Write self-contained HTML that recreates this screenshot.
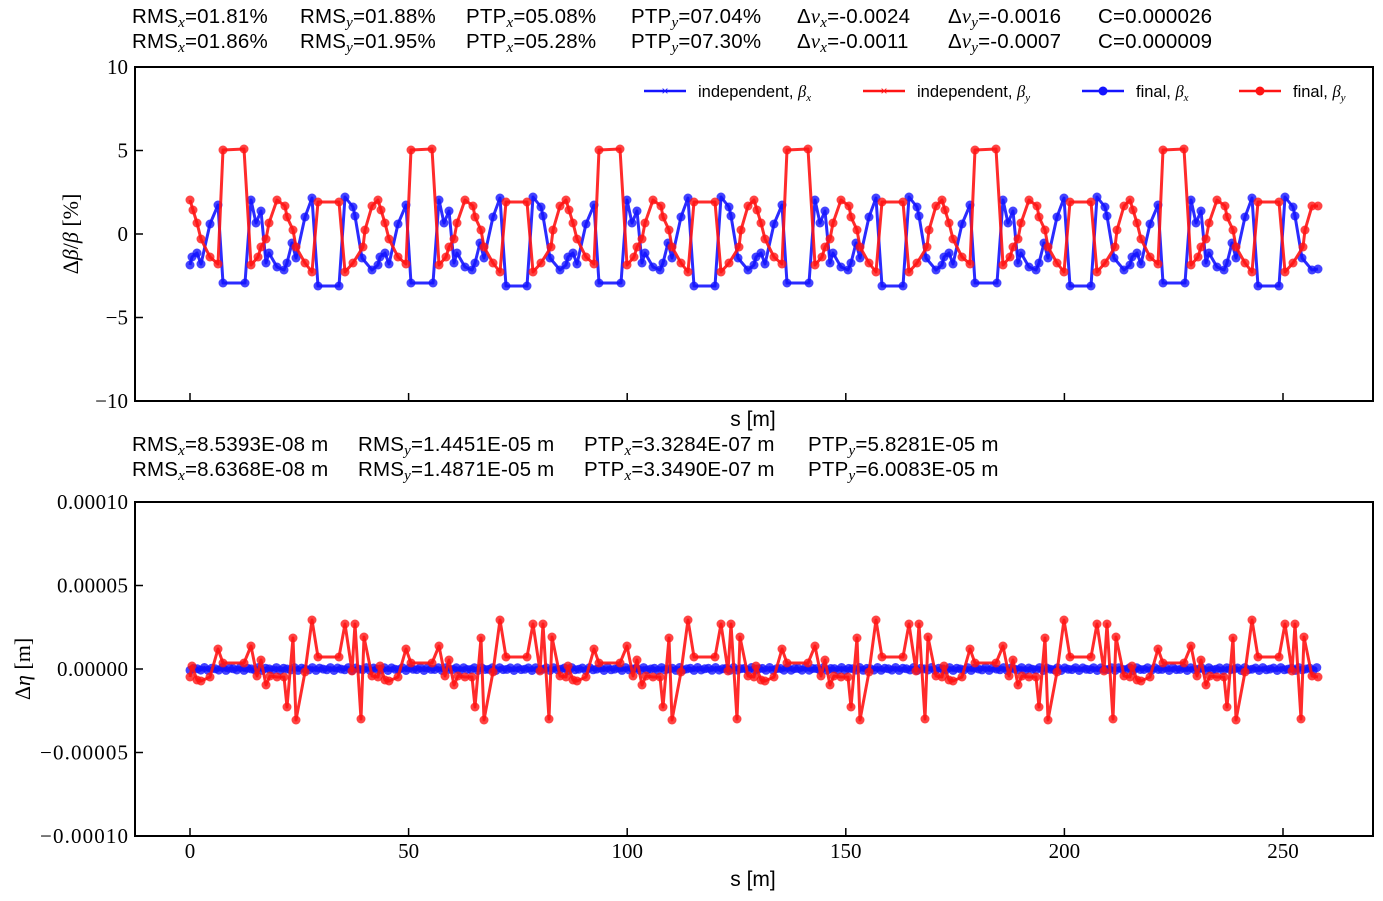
<!DOCTYPE html>
<html><head><meta charset="utf-8"><style>
body{margin:0;background:#fff;width:1383px;height:901px;overflow:hidden;position:relative;font-family:"Liberation Sans",sans-serif}
.t{position:absolute;font-size:20.5px;white-space:nowrap;color:#000;letter-spacing:0.2px}
.t i{font-family:"Liberation Serif",serif;font-size:15px;position:relative;top:4px}
</style></head><body>
<div class="t" style="left:132px;top:5px">RMS<i>x</i>=01.81%</div>
<div class="t" style="left:300px;top:5px">RMS<i>y</i>=01.88%</div>
<div class="t" style="left:466px;top:5px">PTP<i>x</i>=05.08%</div>
<div class="t" style="left:631px;top:5px">PTP<i>y</i>=07.04%</div>
<div class="t" style="left:797px;top:5px">Δ<span style="font-family:'Liberation Serif';font-style:italic">ν</span><i>x</i>=-0.0024</div>
<div class="t" style="left:948px;top:5px">Δ<span style="font-family:'Liberation Serif';font-style:italic">ν</span><i>y</i>=-0.0016</div>
<div class="t" style="left:1098px;top:5px">C=0.000026</div>
<div class="t" style="left:132px;top:30px">RMS<i>x</i>=01.86%</div>
<div class="t" style="left:300px;top:30px">RMS<i>y</i>=01.95%</div>
<div class="t" style="left:466px;top:30px">PTP<i>x</i>=05.28%</div>
<div class="t" style="left:631px;top:30px">PTP<i>y</i>=07.30%</div>
<div class="t" style="left:797px;top:30px">Δ<span style="font-family:'Liberation Serif';font-style:italic">ν</span><i>x</i>=-0.0011</div>
<div class="t" style="left:948px;top:30px">Δ<span style="font-family:'Liberation Serif';font-style:italic">ν</span><i>y</i>=-0.0007</div>
<div class="t" style="left:1098px;top:30px">C=0.000009</div>
<div class="t" style="left:132px;top:433px">RMS<i>x</i>=8.5393E-08 m</div>
<div class="t" style="left:358px;top:433px">RMS<i>y</i>=1.4451E-05 m</div>
<div class="t" style="left:584px;top:433px">PTP<i>x</i>=3.3284E-07 m</div>
<div class="t" style="left:808px;top:433px">PTP<i>y</i>=5.8281E-05 m</div>
<div class="t" style="left:132px;top:458px">RMS<i>x</i>=8.6368E-08 m</div>
<div class="t" style="left:358px;top:458px">RMS<i>y</i>=1.4871E-05 m</div>
<div class="t" style="left:584px;top:458px">PTP<i>x</i>=3.3490E-07 m</div>
<div class="t" style="left:808px;top:458px">PTP<i>y</i>=6.0083E-05 m</div>
<svg id="s" width="1383" height="901" style="position:absolute;left:0;top:0" font-family="Liberation Serif, serif" font-size="21"></svg>
<script>
var s=document.getElementById('s'),h='';
function pl(pts,c,lw,r){var d=pts.map(function(p){return p[0].toFixed(1)+','+p[1].toFixed(1)}).join(' ');
h+='<polyline points="'+d+'" fill="none" stroke="'+c+'" stroke-width="'+lw+'" stroke-opacity="0.9" stroke-linejoin="round"/>';
if(r)pts.forEach(function(p){h+='<circle cx="'+p[0].toFixed(1)+'" cy="'+p[1].toFixed(1)+'" r="'+r+'" fill="'+c+'" fill-opacity="0.8"/>';});}
var P=188;
var rT=[[0,200],[3,210],[7,223],[11,239],[20,257],[28,264],[33,150],[54,149],[61,265],[68,257],[71,247],[76,239],[79,223],[87,200],[95,206],[97,217],[103,230],[106,247],[115,263],[122,272],[128,202],[149,202],[155,272],[163,263],[173,247],[175,230],[182,206]];
var bT=[[0,265],[2,257],[7,253],[11,264],[20,224],[28,205],[33,283],[55,283],[61,200],[66,223],[71,211],[76,263],[79,253],[87,267],[94,270],[97,263],[102,243],[106,258],[115,217],[122,198],[128,286],[149,286],[155,197],[163,207],[165,216],[172,258],[182,270]];
var rB=[[0,677],[2,666],[7,680],[11,681],[20,677],[28,649],[33,663],[54,663],[61,646],[67,676],[71,660],[76,685],[80,676],[87,677],[94,677],[97,707],[103,638],[106,720],[115,672],[122,620],[128,657],[149,657],[155,624],[162,671],[165,624],[171,719],[174,637],[182,676]];
function rep(a,end){var o=[];for(var k=0;k<6;k++)a.forEach(function(p){var x=190+k*P+p[0];if(x<=end)o.push([x,p[1]]);});return o;}
var bt=rep(bT,1318);bt.push([1318,269]);
var rt=rep(rT,1318);rt.push([1318,206]);
var rb=rep(rB,1318);rb.push([1318,677]);
var bb=[];for(var x=190;x<=1318;x+=3.6)bb.push([x,669+Math.sin(x*0.7)*1.5]);
h+='<rect x="135" y="67" width="1238" height="334" fill="none" stroke="#000" stroke-width="2"/>';
h+='<rect x="135" y="502" width="1238" height="334" fill="none" stroke="#000" stroke-width="2"/>';
pl(bt,'#1414ff',3,4.5);pl(rt,'#ff1414',3,4.5);
pl(bb,'#1414ff',3,4.5);pl(rb,'#ff1414',3,4.5);
var xs=[0,50,100,150,200,250];
xs.forEach(function(v){var x=190+v*4.372;h+='<line x1="'+x+'" y1="401" x2="'+x+'" y2="393" stroke="#000" stroke-width="1.5"/><line x1="'+x+'" y1="836" x2="'+x+'" y2="828" stroke="#000" stroke-width="1.5"/>';
h+='<text x="'+x+'" y="858" text-anchor="middle">'+v+'</text>';});
[[10,'10'],[5,'5'],[0,'0'],[-5,'−5'],[-10,'−10']].forEach(function(t){var y=234-t[0]*16.7;h+='<line x1="135" y1="'+y+'" x2="143" y2="'+y+'" stroke="#000" stroke-width="1.5"/><text x="128" y="'+(y+7)+'" text-anchor="end">'+t[1]+'</text>';});
[[2,'0.00010'],[1,'0.00005'],[0,'0.00000'],[-1,'−0.00005'],[-2,'−0.00010']].forEach(function(t){var y=669-t[0]*83.5;h+='<line x1="135" y1="'+y+'" x2="143" y2="'+y+'" stroke="#000" stroke-width="1.5"/><text x="128" y="'+(y+7)+'" text-anchor="end" textLength="'+(t[1].length>7?88:71)+'">'+t[1]+'</text>';});
h+='<text x="753" y="426" text-anchor="middle" font-family="Liberation Sans, sans-serif" font-size="21">s [m]</text>';
h+='<text x="753" y="886" text-anchor="middle" font-family="Liberation Sans, sans-serif" font-size="21">s [m]</text>';
h+='<text transform="translate(78,234) rotate(-90)" text-anchor="middle" font-size="22">Δ<tspan font-style="italic">β</tspan>/<tspan font-style="italic">β</tspan> [%]</text>';
h+='<text transform="translate(30,669) rotate(-90)" text-anchor="middle" font-size="22">Δ<tspan font-style="italic">η</tspan> [m]</text>';
var L=[[644,'independent, ','x','#1414ff',0],[863,'independent, ','y','#ff1414',0],[1082,'final, ','x','#1414ff',1],[1239,'final, ','y','#ff1414',1]];
L.forEach(function(l){var x=l[0];h+='<line x1="'+x+'" y1="91" x2="'+(x+42)+'" y2="91" stroke="'+l[3]+'" stroke-width="2.5"/>';
if(l[4])h+='<circle cx="'+(x+21)+'" cy="91" r="4.5" fill="'+l[3]+'"/>';else h+='<text x="'+(x+21)+'" y="95" text-anchor="middle" fill="'+l[3]+'" font-size="12" font-family="Liberation Sans">×</text>';
h+='<text x="'+(x+54)+'" y="97" font-family="Liberation Sans, sans-serif" font-size="16.5">'+l[1]+'<tspan font-family="Liberation Serif" font-style="italic">β</tspan><tspan font-size="11" dy="4" font-family="Liberation Serif" font-style="italic">'+l[2]+'</tspan></text>';});
s.innerHTML=h;
</script>
</body></html>
